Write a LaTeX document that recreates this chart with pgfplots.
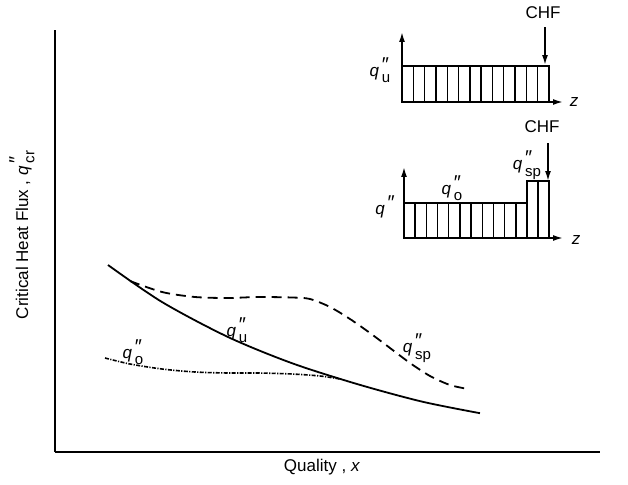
\documentclass[border=0pt]{standalone}
\usepackage{pgfplots}
\pgfplotsset{compat=1.18}
\usepackage{fontspec}
\setmainfont{Liberation Sans}
\usetikzlibrary{arrows.meta}
\newcommand{\dprime}{\raisebox{0.3em}{\fontsize{10pt}{10pt}\selectfont\char"2033}}
\newcommand{\qq}[1]{\textit{q}\kern0.16em\makebox[0pt][l]{\dprime}\raisebox{-0.7ex}{\fontsize{7.5pt}{7.5pt}\selectfont #1}}
\begin{document}
\begin{tikzpicture}[x=0.5pt,y=0.5pt]
\useasboundingbox (0,0) rectangle (628,484);
% main axis (data units = pixels of the reference, y measured upward)
\begin{axis}[
  at={(27.5pt,16pt)}, anchor=south west,
  scale only axis, width=272.5pt, height=211pt,
  xmin=55, xmax=600, ymin=32, ymax=454,
  axis lines=left, axis line style={-, line width=1.3pt},
  xtick=\empty, ytick=\empty, clip=false,
  font=\fontsize{8.5pt}{9pt}\selectfont]
\addplot[line width=0.9pt, smooth] coordinates {
 (108,219) (162,182) (228,147) (292,120.8) (358,99.7) (422,82.4) (480,70.8)};
\addplot[line width=0.9pt, smooth, dash pattern=on 5pt off 3pt] coordinates {
 (130,203) (162,192) (195,187) (228,186) (258,187) (292,186.5) (310,185)
 (330,177) (350,165) (370,151) (390,136) (410,121) (430,108) (450,99) (468,95)};
\addplot[line width=0.8pt, smooth, dash pattern=on 2pt off 0.7pt on 0.6pt off 0.7pt] coordinates {
 (105,126) (130,120) (162,115) (195,112) (228,111) (258,111) (292,110) (320,108) (340,105)};
\node at (axis cs:237,154) {\qq{u}};
\node at (axis cs:133,132) {\qq{o}};
\node at (axis cs:417,136) {\qq{sp}};
\node[rotate=90] at (axis cs:22,249) {Critical Heat Flux , \qq{cr}};
\node at (axis cs:322,17) {Quality , \textit{x}};
% inset 1 annotations
\node[font=\fontsize{8.5pt}{9pt}\selectfont] at (axis cs:543,471) {CHF};
\draw[line width=0.8pt, -{Latex[length=5pt,width=3pt]}] (axis cs:545,457) -- (axis cs:545,419);
\node at (axis cs:380,414) {\qq{u}};
\node at (axis cs:574,382) {\textit{z}};
% inset 2 annotations
\node[font=\fontsize{8.5pt}{9pt}\selectfont] at (axis cs:542,357) {CHF};
\draw[line width=0.8pt, -{Latex[length=5pt,width=3pt]}] (axis cs:548,341) -- (axis cs:548,303);
\node at (axis cs:385,277) {\textit{q}\kern0.16em\dprime};
\node at (axis cs:452,296) {\qq{o}};
\node at (axis cs:527,319) {\qq{sp}};
\node at (axis cs:576,244) {\textit{z}};
\end{axis}
% inset 1
\begin{axis}[
  at={(201pt,191pt)}, anchor=south west,
  scale only axis, width=80.5pt, height=35pt,
  xmin=0, xmax=161, ymin=0, ymax=70,
  axis lines=left, axis line style={line width=0.8pt, -{Latex[length=5pt,width=3pt]}},
  xtick=\empty, ytick=\empty, clip=false]
\addplot[ybar interval, fill=white, draw=black, line width=0.7pt] coordinates {
 (0,36) (11.31,36) (22.62,36) (33.92,36) (45.23,36) (56.54,36) (67.85,36)
 (79.15,36) (90.46,36) (101.77,36) (113.08,36) (124.38,36) (135.69,36) (147,36)};
\end{axis}
% inset 2
\begin{axis}[
  at={(202pt,123pt)}, anchor=south west,
  scale only axis, width=79.5pt, height=35.5pt,
  xmin=0, xmax=159, ymin=0, ymax=71,
  axis lines=left, axis line style={line width=0.8pt, -{Latex[length=5pt,width=3pt]}},
  xtick=\empty, ytick=\empty, clip=false]
\addplot[ybar interval, fill=white, draw=black, line width=0.7pt] coordinates {
 (0,35) (11.18,35) (22.36,35) (33.55,35) (44.73,35) (55.91,35) (67.09,35)
 (78.27,35) (89.45,35) (100.64,35) (111.82,35) (123,57) (134,57) (145,57)};
\end{axis}
\end{tikzpicture}
\end{document}
